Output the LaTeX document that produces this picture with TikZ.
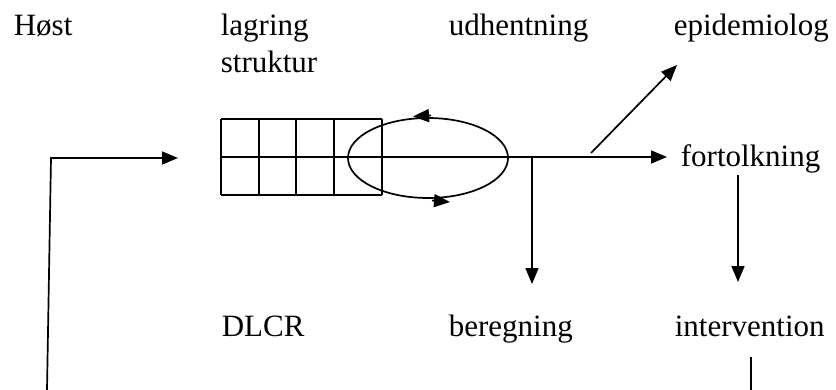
\documentclass[tikz,border=0pt]{standalone}
\usepackage{fontspec}
\setmainfont{Liberation Serif}
\usetikzlibrary{arrows.meta}

\begin{document}
\begin{tikzpicture}[x=0.5pt, y=-0.5pt, line width=0.85pt,
    >={Triangle[length=8pt,width=6.5pt]},
    every node/.style={inner sep=0pt, anchor=base west, font=\fontsize{15.5}{18}\selectfont}]
            \useasboundingbox (0,0) rectangle (836,390);

            % labels
            \node (host)     at (13,36)   {Høst};
            \node (lagring)  at (220,36)  {lagring};
            \node (struktur) at (220,73)  {struktur};
            \node (udhent)   at (448,36)  {udhentning};
            \node (epidem)   at (673,36)  {epidemiolog};
            \node (fortolk)  at (680,167) {fortolkning};
            \node (dlcr)     at (221,336) {DLCR};
            \node (beregn)   at (448,336) {beregning};
            \node (interv)   at (674,336) {intervention};

            % lager (grid) og udhentning (ellipse)
            \foreach \x in {221,259,296,334,382}
                \draw (\x,119) -- (\x,195);
            \foreach \y in {119,157,195}
                \draw (221,\y) -- (382,\y);
            \draw (428,158) ellipse [x radius=80, y radius=40];
            \draw[->] (431,115.5) -- (413,116.5);
            \draw[->] (432,200.5) -- (450,202);

            % end points of the connectors
            \coordinate (start) at (298,157);
            \coordinate (split) at (532,157);
            \coordinate (fork) at (591,153);
            \coordinate (fortolkin) at (667,157);
            \coordinate (epidemin) at (677,65);
            \coordinate (beregnin) at (532,284);
            \coordinate (fortolkout) at (738,175);
            \coordinate (intervin) at (738,282);
            \coordinate (intervout) at (751,357);
            \coordinate (bottomr) at (751,390);
            \coordinate (bottoml) at (47,390);
            \coordinate (corner) at (51,158);
            \coordinate (lagerin) at (178,158);

            \draw[->] (start) -- (fortolkin);
            \draw[->] (split) -- (beregnin);
            \draw[->] (fork) -- (epidemin);
            \draw[->] (fortolkout) -- (intervin);
            \draw (intervout) -- (bottomr);
            \draw[->] (bottoml) -- (corner) -- (lagerin);
\end{tikzpicture}
\end{document}
